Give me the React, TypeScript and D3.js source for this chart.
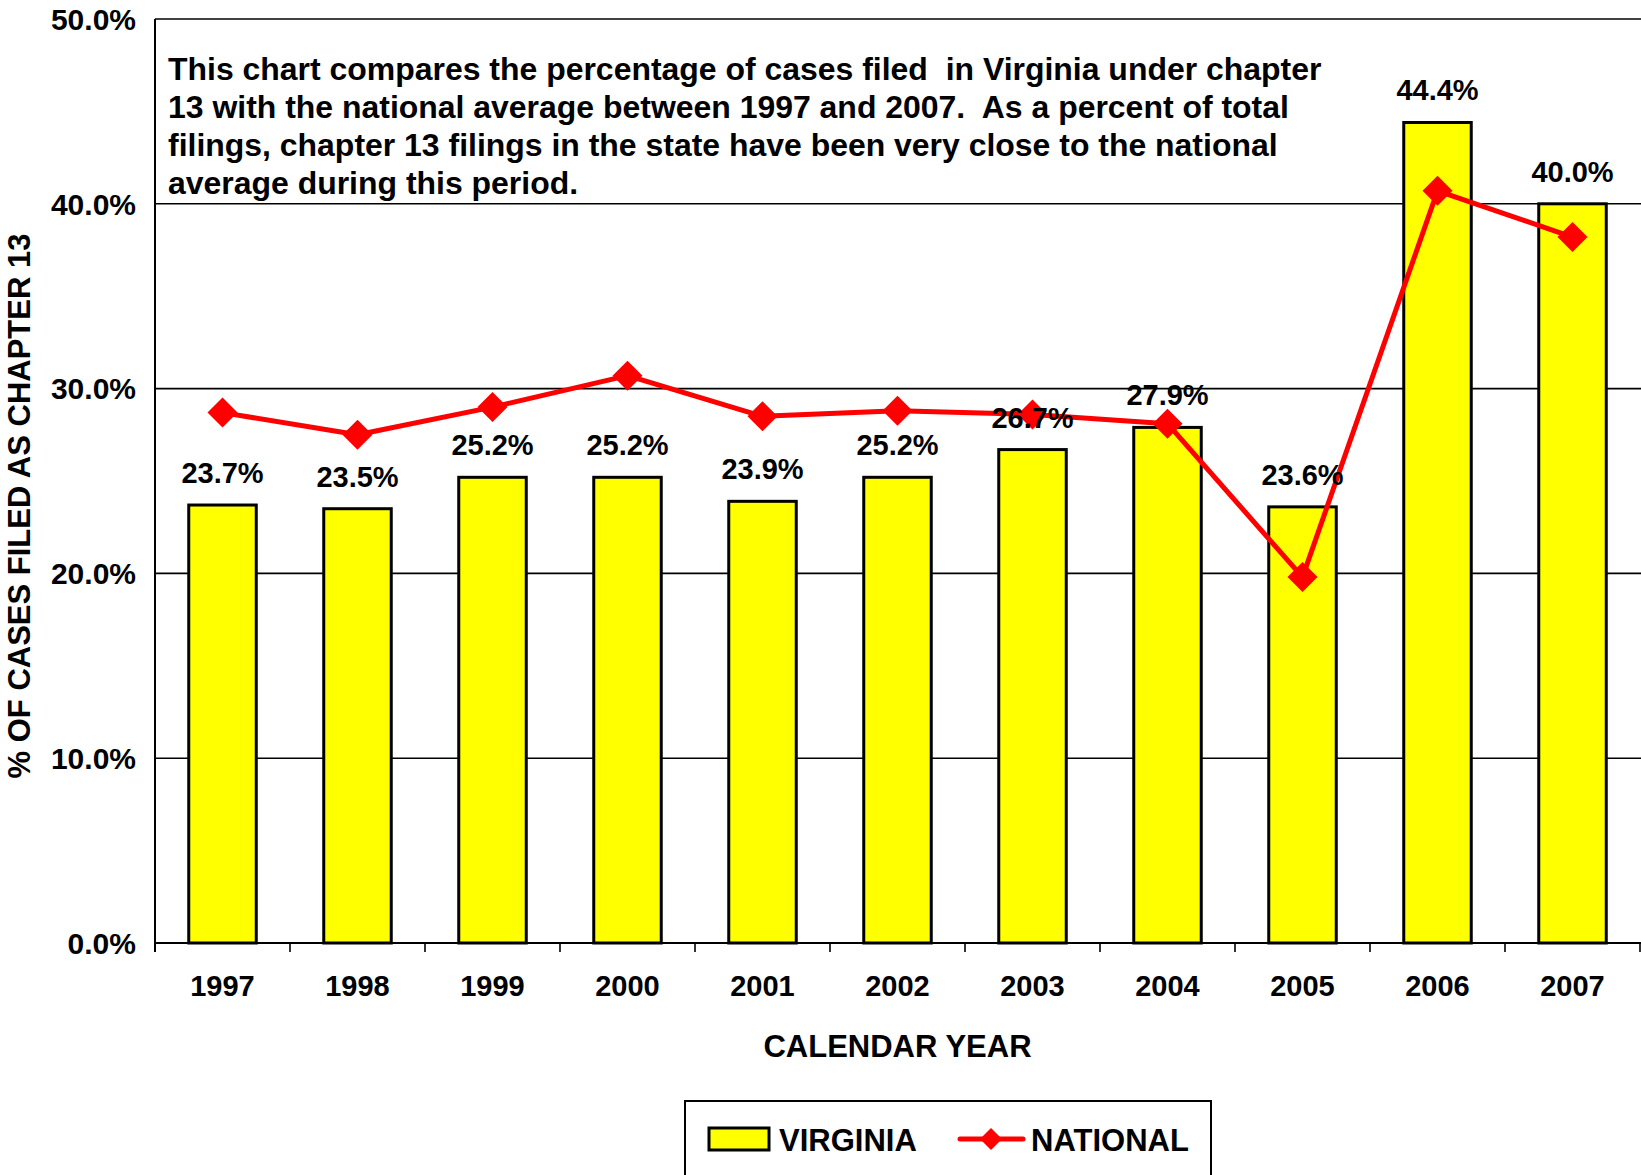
import React, { useLayoutEffect, useRef, useState } from "react";
import * as d3 from "d3";

const years = ["1997", "1998", "1999", "2000", "2001", "2002", "2003", "2004", "2005", "2006", "2007"];
const virginia = [23.7, 23.5, 25.2, 25.2, 23.9, 25.2, 26.7, 27.9, 23.6, 44.4, 40.0];
const national = [28.7, 27.5, 29.0, 30.7, 28.5, 28.8, 28.6, 28.1, 19.8, 40.7, 38.2];
const yTicks = [0, 10, 20, 30, 40, 50];
const noteLines = [
  "This chart compares the percentage of cases filed  in Virginia under chapter",
  "13 with the national average between 1997 and 2007.  As a percent of total",
  "filings, chapter 13 filings in the state have been very close to the national",
  "average during this period.",
];

const W = 1641;
const H = 1175;
const FONT = "'Liberation Sans', Arial, Helvetica, sans-serif";

export default function App() {
  const left = 155, right = 1640, top = 19, bottom = 943;
  const x = d3.scaleBand<string>().domain(years).range([left, right]).paddingInner(0.5).paddingOuter(0.25);
  const step = x.step();
  const y = d3.scaleLinear().domain([0, 50]).range([bottom, top]);
  const line = d3
    .line<number>()
    .x((_, i) => (x(years[i]) as number) + x.bandwidth() / 2)
    .y((d) => y(d));

  const firstRef = useRef<SVGTextElement>(null);
  const [sx, setSx] = useState(1);
  useLayoutEffect(() => {
    if (firstRef.current) {
      const len = firstRef.current.getComputedTextLength();
      if (len > 0) setSx(1154 / len);
    }
  }, []);

  const diamond = (cx: number, cy: number, r: number) =>
    `M${cx},${cy - r}L${cx + r},${cy}L${cx},${cy + r}L${cx - r},${cy}Z`;

  return (
    <svg
      width={W}
      height={H}
      style={{ position: "absolute", left: 0, top: 0, background: "#fff" }}
      fontFamily={FONT}
      fontWeight="bold"
    >
      <rect x={0} y={0} width={W} height={H} fill="#fff" />
      {/* gridlines */}
      {yTicks.slice(1).map((t) => (
        <line key={t} x1={left} x2={right + 5} y1={y(t)} y2={y(t)} stroke="#000" strokeWidth={1.6} />
      ))}
      {/* y tick labels */}
      {yTicks.map((t) => (
        <text key={t} x={136} y={y(t)} dy="0.36em" textAnchor="end" fontSize={30}>
          {t.toFixed(1)}%
        </text>
      ))}
      {/* bars */}
      {virginia.map((v, i) => (
        <rect
          key={years[i]}
          x={x(years[i]) as number}
          y={y(v)}
          width={x.bandwidth()}
          height={bottom - y(v)}
          fill="#FFFF00"
          stroke="#000"
          strokeWidth={3}
        />
      ))}
      {/* axes */}
      <line x1={left} x2={left} y1={top} y2={bottom + 9} stroke="#000" strokeWidth={2} />
      <line x1={left} x2={right + 5} y1={bottom} y2={bottom} stroke="#000" strokeWidth={2} />
      {d3.range(years.length + 1).map((k) => (
        <line key={k} x1={left + k * step} x2={left + k * step} y1={bottom} y2={bottom + 9} stroke="#000" strokeWidth={1.6} />
      ))}
      {/* national line */}
      <path d={line(national) || ""} fill="none" stroke="#FF0000" strokeWidth={5} strokeLinejoin="round" />
      {national.map((v, i) => (
        <path key={years[i]} d={diamond((x(years[i]) as number) + x.bandwidth() / 2, y(v), 15)} fill="#FF0000" />
      ))}
      {/* data labels */}
      {virginia.map((v, i) => (
        <text
          key={years[i]}
          x={(x(years[i]) as number) + x.bandwidth() / 2}
          y={y(v) - 22}
          textAnchor="middle"
          fontSize={29}
        >
          {v.toFixed(1)}%
        </text>
      ))}
      {/* x labels */}
      {years.map((yr) => (
        <text key={yr} x={(x(yr) as number) + x.bandwidth() / 2} y={996} textAnchor="middle" fontSize={29}>
          {yr}
        </text>
      ))}
      <text x={(left + right) / 2} y={1057} textAnchor="middle" fontSize={31}>
        CALENDAR YEAR
      </text>
      <text transform="translate(30,506) rotate(-90)" textAnchor="middle" fontSize={31}>
        % OF CASES FILED AS CHAPTER 13
      </text>
      {/* annotation */}
      <g transform={`translate(168,0) scale(${sx},1)`}>
        {noteLines.map((ln, i) => (
          <text
            key={i}
            ref={i === 0 ? firstRef : undefined}
            x={0}
            y={80 + i * 38}
            fontSize={31}
            style={{ whiteSpace: "pre" }}
          >
            {ln}
          </text>
        ))}
      </g>
      {/* legend */}
      <rect x={685} y={1101} width={526} height={100} fill="#fff" stroke="#000" strokeWidth={2} />
      <rect x={709} y={1128} width={60} height={22} fill="#FFFF00" stroke="#000" strokeWidth={3} />
      <text x={779} y={1151} fontSize={31}>VIRGINIA</text>
      <line x1={960} x2={1023} y1={1139} y2={1139} stroke="#FF0000" strokeWidth={5} strokeLinecap="round" />
      <path d={diamond(991, 1139, 11)} fill="#FF0000" />
      <text x={1031} y={1151} fontSize={31}>NATIONAL</text>
    </svg>
  );
}
